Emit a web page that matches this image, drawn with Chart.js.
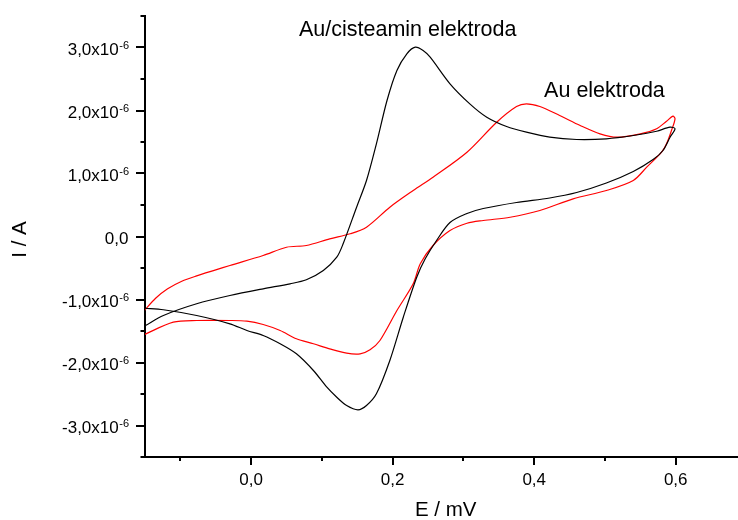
<!DOCTYPE html>
<html>
<head>
<meta charset="utf-8">
<script src="https://cdn.jsdelivr.net/npm/chart.js@4.4.0/dist/chart.umd.min.js"></script>
<style>
body { margin: 0; background: #fff; }
#chart-holder { width: 738px; height: 520px; }
</style>
</head>
<body>
<div id="chart-holder"><canvas id="cv-chart" width="738" height="520"></canvas></div>
<script>

// Au/cisteamin elektroda (black loop) - E in V, I in uA
var cistE = [-0.150, -0.124, -0.077, -0.030, 0.017, 0.055, 0.078, 0.102, 0.121, 0.130, 0.149, 0.163, 0.177, 0.192, 0.206, 0.220, 0.232, 0.243, 0.253, 0.281, 0.309, 0.333, 0.361, 0.389, 0.422, 0.460, 0.502, 0.540, 0.573, 0.592, 0.599,
             0.592, 0.582, 0.568, 0.540, 0.502, 0.460, 0.422, 0.375, 0.328, 0.305, 0.281, 0.262, 0.246, 0.234, 0.215, 0.196, 0.177, 0.163, 0.151, 0.135, 0.121, 0.107, 0.088, 0.064, 0.041, 0.017, -0.006, -0.030, -0.077, -0.124, -0.151];
var cistI = [-1.417, -1.254, -1.068, -0.937, -0.830, -0.751, -0.687, -0.540, -0.329, -0.116, 0.465, 0.889, 1.471, 2.159, 2.635, 2.900, 3.005, 2.952, 2.846, 2.424, 2.106, 1.894, 1.746, 1.656, 1.576, 1.540, 1.551, 1.603, 1.671, 1.735, 1.710,
             1.576, 1.365, 1.222, 1.032, 0.849, 0.698, 0.611, 0.540, 0.444, 0.365, 0.222, -0.063, -0.354, -0.646, -1.281, -1.968, -2.497, -2.683, -2.751, -2.683, -2.551, -2.392, -2.127, -1.862, -1.703, -1.571, -1.492, -1.386, -1.254, -1.163, -1.138];

// Au elektroda (red loop)
var auE = [-0.151, -0.135, -0.118, -0.098, -0.077, -0.050, -0.030, 0.017, 0.050, 0.078, 0.111, 0.140, 0.163, 0.196, 0.229, 0.257, 0.305, 0.347, 0.375, 0.389, 0.408, 0.436, 0.465, 0.493, 0.517, 0.550, 0.573, 0.587, 0.596, 0.599,
           0.594, 0.587, 0.580, 0.559, 0.540, 0.502, 0.455, 0.408, 0.366, 0.328, 0.305, 0.281, 0.257, 0.239, 0.229, 0.206, 0.182, 0.168, 0.154, 0.135, 0.111, 0.088, 0.064, 0.041, 0.017, -0.006, -0.030, -0.077, -0.110, -0.151];
var auI = [-1.175, -0.980, -0.830, -0.710, -0.625, -0.530, -0.460, -0.302, -0.170, -0.143, -0.037, 0.043, 0.148, 0.465, 0.730, 0.941, 1.338, 1.814, 2.063, 2.106, 2.063, 1.921, 1.762, 1.630, 1.576, 1.630, 1.710, 1.830, 1.910, 1.868,
           1.683, 1.471, 1.338, 1.100, 0.889, 0.730, 0.598, 0.413, 0.306, 0.254, 0.211, 0.095, -0.143, -0.433, -0.751, -1.175, -1.651, -1.798, -1.862, -1.852, -1.783, -1.703, -1.624, -1.492, -1.397, -1.344, -1.333, -1.333, -1.360, -1.556];

var xMajorTicks = [0.0, 0.2, 0.4, 0.6];
var xTickLabels = ['0,0', '0,2', '0,4', '0,6'];
var xMinorTicks = [-0.1, 0.1, 0.3, 0.5];

var yMajorTicks = [-3e-6, -2e-6, -1e-6, 0, 1e-6, 2e-6, 3e-6];
var yTickLabels = ['-3,0x10', '-2,0x10', '-1,0x10', '0,0', '1,0x10', '2,0x10', '3,0x10'];
var yTickExps   = ['-6', '-6', '-6', '', '-6', '-6', '-6'];
var yMinorTicks = [-3.5e-6, -2.5e-6, -1.5e-6, -0.5e-6, 0.5e-6, 1.5e-6, 2.5e-6, 3.5e-6];

var curveLabels = ['Au/cisteamin elektroda', 'Au elektroda'];

var FONT = '"Liberation Sans", Arial, sans-serif';

function to_points(es, is) {
    var pts = [];
    for (var i = 0; i < es.length; i++) {
        pts.push({ x: es[i], y: is[i] * 1e-6 });
    }
    return pts;
}

// draws tick marks, tick labels, axis titles and curve labels
var axisDecor = {
    id: 'axisDecor',
    afterDraw: function(chart) {
        var ctx = chart.ctx;
        var xs = chart.scales.x;
        var ys = chart.scales.y;
        var left = chart.chartArea.left;
        var bottom = chart.chartArea.bottom;

        ctx.save();
        ctx.strokeStyle = '#000';
        ctx.lineWidth = 2;
        ctx.beginPath();
        yMajorTicks.forEach(function(v) {
            var p = Math.round(ys.getPixelForValue(v));
            ctx.moveTo(left - 9, p); ctx.lineTo(left, p);
        });
        yMinorTicks.forEach(function(v) {
            var p = Math.round(ys.getPixelForValue(v));
            ctx.moveTo(left - 4.5, p); ctx.lineTo(left, p);
        });
        xMajorTicks.forEach(function(v) {
            var p = Math.round(xs.getPixelForValue(v));
            ctx.moveTo(p, bottom); ctx.lineTo(p, bottom + 8);
        });
        xMinorTicks.forEach(function(v) {
            var p = Math.round(xs.getPixelForValue(v));
            ctx.moveTo(p, bottom); ctx.lineTo(p, bottom + 4);
        });
        ctx.stroke();

        ctx.fillStyle = '#000';

        // y tick labels with superscript exponent
        for (var i = 0; i < yMajorTicks.length; i++) {
            var py = ys.getPixelForValue(yMajorTicks[i]);
            var rx = left - 16;
            ctx.textAlign = 'right';
            ctx.textBaseline = 'alphabetic';
            var supW = 0;
            if (yTickExps[i]) {
                ctx.font = '11px ' + FONT;
                supW = ctx.measureText(yTickExps[i]).width;
                ctx.fillText(yTickExps[i], rx, py + 1);
            }
            ctx.font = '17px ' + FONT;
            ctx.fillText(yTickLabels[i], rx - supW - 0.5, py + 7);
        }

        // x tick labels
        ctx.font = '17px ' + FONT;
        ctx.textAlign = 'center';
        ctx.textBaseline = 'middle';
        for (var j = 0; j < xMajorTicks.length; j++) {
            ctx.fillText(xTickLabels[j], xs.getPixelForValue(xMajorTicks[j]), bottom + 23);
        }

        // axis titles
        ctx.font = '20.5px ' + FONT;
        ctx.fillText('E / mV', (xs.getPixelForValue(-0.15) + xs.getPixelForValue(0.7)) / 2, bottom + 53);
        ctx.save();
        ctx.translate(20, (chart.chartArea.top + bottom) / 2 + 3);
        ctx.rotate(-Math.PI / 2);
        ctx.fillText('I / A', 0, 0);
        ctx.restore();

        // curve labels
        ctx.font = '21.5px ' + FONT;
        ctx.textAlign = 'left';
        ctx.textBaseline = 'alphabetic';
        ctx.fillText(curveLabels[0], xs.getPixelForValue(0.0676), ys.getPixelForValue(3.175e-6));
        ctx.fillText(curveLabels[1], xs.getPixelForValue(0.414), ys.getPixelForValue(2.222e-6));
        ctx.restore();
    }
};

var ctx = document.getElementById('cv-chart').getContext('2d');
window.cvChart = new Chart(ctx, {
    type: 'scatter',
    data: {
        datasets: [{
            label: curveLabels[0],
            data: to_points(cistE, cistI),
            showLine: true,
            borderColor: '#000000',
            borderWidth: 1.2,
            pointRadius: 0,
            tension: 0.3
        }, {
            label: curveLabels[1],
            data: to_points(auE, auI),
            showLine: true,
            borderColor: '#ff0000',
            borderWidth: 1.2,
            pointRadius: 0,
            tension: 0.3
        }]
    },
    options: {
        responsive: false,
        animation: false,
        layout: { padding: { left: 145, top: 16, right: 0, bottom: 63 } },
        plugins: { legend: { display: false }, tooltip: { enabled: false } },
        scales: {
            x: {
                type: 'linear',
                min: -0.15,
                max: 0.688,
                ticks: { display: false },
                grid: { display: false },
                border: { display: true, color: '#000', width: 2 },
                afterFit: function(scale) { scale.height = 0; }
            },
            y: {
                type: 'linear',
                min: -3.5e-6,
                max: 3.5e-6,
                ticks: { display: false },
                grid: { display: false },
                border: { display: true, color: '#000', width: 2 },
                afterFit: function(scale) { scale.width = 0; }
            }
        }
    },
    plugins: [axisDecor]
});
</script>
</body>
</html>
